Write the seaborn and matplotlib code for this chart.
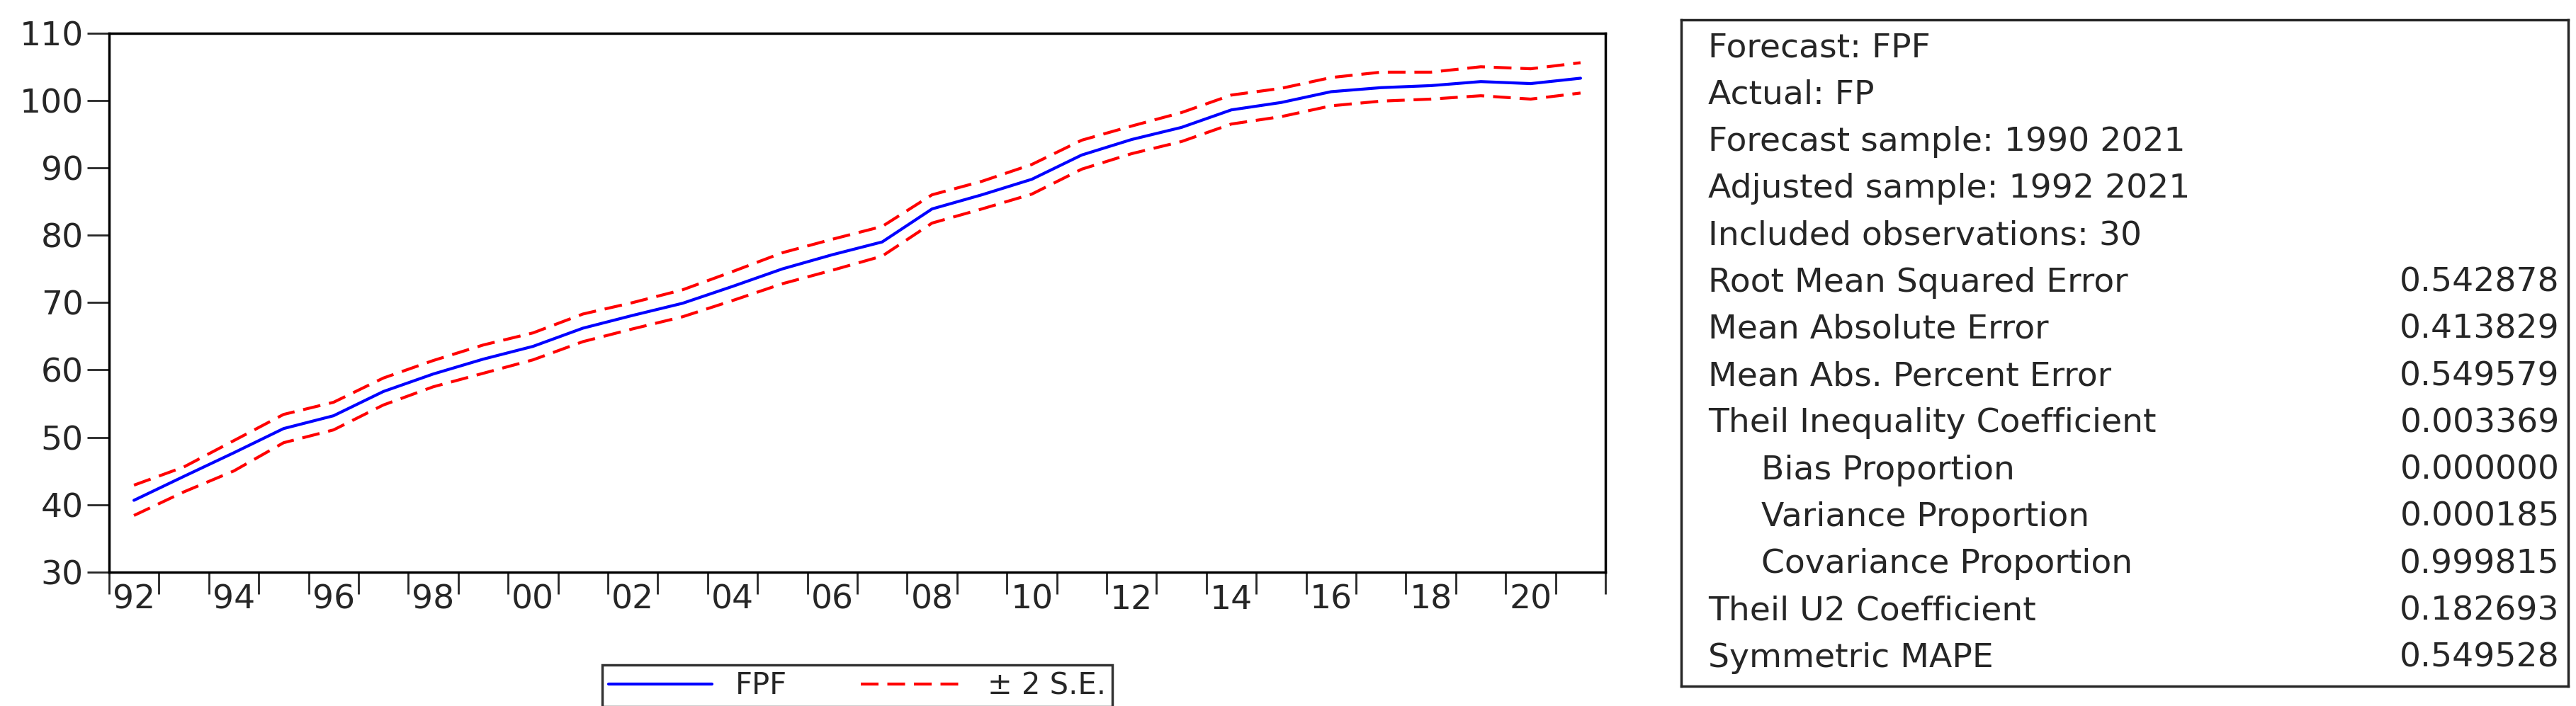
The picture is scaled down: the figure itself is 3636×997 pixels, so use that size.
import numpy as np
import pandas as pd
import matplotlib
matplotlib.use("Agg")
import matplotlib.pyplot as plt
import seaborn as sns

years = list(range(1992, 2022))
fpf = [40.65, 44.2, 47.7, 51.3, 53.2, 56.8, 59.4, 61.6, 63.5, 66.2, 68.1, 69.9, 72.4, 75.0, 77.1,
       79.0, 83.9, 86.0, 88.3, 91.9, 94.2, 96.0, 98.6, 99.7, 101.3, 101.9, 102.2, 102.8, 102.5, 103.3]
upper = [42.9, 45.6, 49.5, 53.4, 55.2, 58.8, 61.4, 63.7, 65.5, 68.3, 70.0, 71.9, 74.6, 77.4, 79.4,
         81.3, 86.0, 88.0, 90.5, 94.1, 96.2, 98.2, 100.8, 101.8, 103.4, 104.2, 104.2, 105.0, 104.7, 105.6]
lower = [38.4, 41.9, 45.0, 49.2, 51.1, 54.8, 57.5, 59.5, 61.5, 64.2, 66.1, 67.9, 70.3, 72.8, 74.8,
         76.9, 81.8, 83.9, 86.1, 89.8, 92.1, 93.9, 96.5, 97.6, 99.2, 99.9, 100.2, 100.7, 100.2, 101.1]

stats_labels = ["Forecast: FPF", "Actual: FP", "Forecast sample: 1990 2021", "Adjusted sample: 1992 2021",
                "Included observations: 30", "Root Mean Squared Error", "Mean Absolute Error",
                "Mean Abs. Percent Error", "Theil Inequality Coefficient", "     Bias Proportion",
                "     Variance Proportion", "     Covariance Proportion", "Theil U2 Coefficient",
                "Symmetric MAPE"]
stats_values = ["", "", "", "", "", "0.542878", "0.413829", "0.549579", "0.003369", "0.000000",
                "0.000185", "0.999815", "0.182693", "0.549528"]

sns.set_style("white")
plt.rcParams['font.family'] = ['DejaVu Sans']

df = pd.DataFrame({"year": years, "FPF": fpf, "upper": upper, "lower": lower})

fig = plt.figure(figsize=(36.37, 9.97), dpi=100)
ax = fig.add_axes([66 / 1560, 1 - 346 / 427, (972 - 66) / 1560, (346 - 20) / 427])

sns.lineplot(data=df, x="year", y="FPF", ax=ax, color="#0000ff", lw=3, label="FPF")
sns.lineplot(data=df, x="year", y="upper", ax=ax, color="#ff0000", lw=3,
             linestyle=(0, (6, 3)), label="\u00b1 2 S.E.")
sns.lineplot(data=df, x="year", y="lower", ax=ax, color="#ff0000", lw=3,
             linestyle=(0, (6, 3)))

ax.set_xlim(1991.5, 2021.5)
ax.set_ylim(30, 110)
ax.set_yticks(range(30, 111, 10))
ax.set_xticks(np.arange(1991.5, 2022, 1), minor=False)
ax.set_xticklabels([])
ax.set_xticks(years[::2], minor=True)
ax.set_xticklabels([f"{y % 100:02d}" for y in years[::2]], minor=True)
ax.tick_params(axis="x", which="major", direction="out", length=22, width=2, bottom=True)
ax.tick_params(axis="x", which="minor", length=0, pad=12, labelsize=34)
ax.tick_params(axis="y", direction="out", length=22, width=2, left=True, labelsize=34, pad=4)
ax.set_xlabel("")
ax.set_ylabel("")
for s in ax.spines.values():
    s.set_linewidth(2.5)
    s.set_color("black")

ax.legend(loc="upper center", bbox_to_anchor=(0.5, -0.145), ncol=2, fontsize=30, frameon=True,
          fancybox=False, edgecolor="black", handlelength=3.5, columnspacing=2.5, borderpad=0.2)
ax.get_legend().get_frame().set_linewidth(2.5)

# statistics table
tax = fig.add_axes([1018 / 1560, 1 - 415 / 427, (1555 - 1018) / 1560, (415 - 12) / 427])
tax.set_xticks([])
tax.set_yticks([])
for s in tax.spines.values():
    s.set_linewidth(2.5)
n = len(stats_labels)
for i, (lab, val) in enumerate(zip(stats_labels, stats_values)):
    yy = 1 - (i + 0.6) / (n + 0.2)
    tax.text(0.03, yy, lab, fontsize=34, va="center", ha="left", transform=tax.transAxes)
    tax.text(0.99, yy, val, fontsize=34, va="center", ha="right", transform=tax.transAxes)

fig.savefig("out.png", dpi=100)
